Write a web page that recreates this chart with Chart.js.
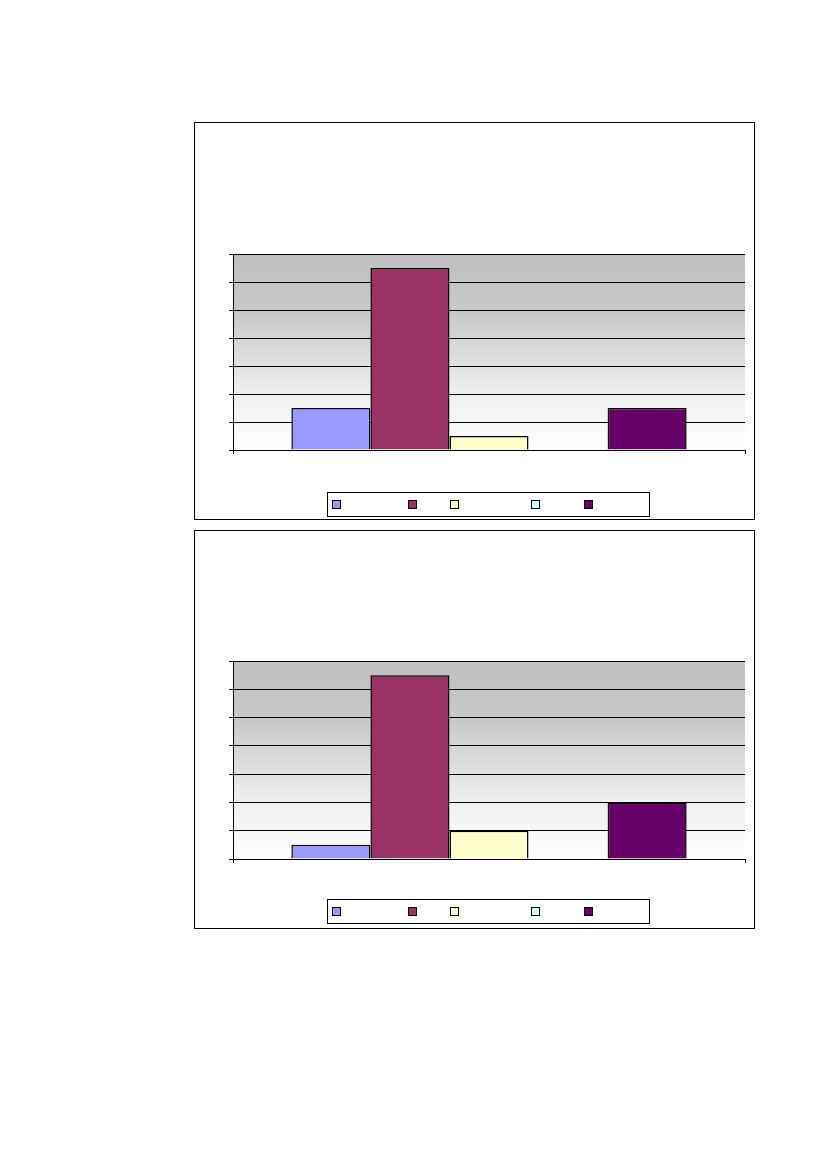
<!DOCTYPE html>
<html>
<head>
<meta charset="utf-8">
<script src="https://cdn.jsdelivr.net/npm/chart.js@4/dist/chart.umd.min.js"></script>
<style>
  html, body { margin: 0; padding: 0; background: #fff; }
  body { width: 826px; height: 1168px; position: relative; font-family: "Liberation Sans", Arial, sans-serif; }
  .box { position: absolute; left: 194px; width: 559px; border: 1px solid #000; background: #fff; }
  .box canvas { position: absolute; left: 0; top: 0; }
  .legend { position: absolute; left: 132px; width: 323px; height: 25px; border: 1px solid #000; background: #fff; box-sizing: border-box; }
  .legend .item { position: absolute; top: 7px; width: 7px; height: 7px; border: 1px solid #000; }
</style>
</head>
<body>
<div class="box" id="box1" style="top:122px;height:396px;"><canvas id="c1" width="559" height="396"></canvas><div class="legend" id="lg1" style="top:369px;"></div></div>
<div class="box" id="box2" style="top:530px;height:397px;"><canvas id="c2" width="559" height="397"></canvas><div class="legend" id="lg2" style="top:368px;"></div></div>
<script>
// ---- data ----
const categories = [""];
const seriesNames = ["", "", "", "", ""];
const seriesColors = ["#9999ff", "#993366", "#ffffcc", "#ccffff", "#660066"];
const chart1Values = [3, 13, 1, 0, 3];
const chart2Values = [1, 13, 2, 0, 4];
const yTicks = [0, 2, 4, 6, 8, 10, 12, 14];
// legend swatch offsets inside legend box (px)
const legendOffsets = [4, 80, 122, 203, 256];

const bgPlugin = {
  id: 'plotBg',
  beforeDraw(chart) {
    const a = chart.chartArea, ctx = chart.ctx;
    const g = ctx.createLinearGradient(0, a.top, 0, a.bottom);
    g.addColorStop(0, '#c0c0c0');
    g.addColorStop(0.3, '#c8c8c8');
    g.addColorStop(0.7, '#eeeeee');
    g.addColorStop(1, '#ffffff');
    ctx.save();
    ctx.fillStyle = g;
    ctx.fillRect(a.left, a.top, a.right - a.left, a.bottom - a.top);
    ctx.restore();
  }
};

function makeChart(id, values, topPad) {
  const datasets = values.map((v, i) => ({
    label: seriesNames[i],
    data: [v],
    backgroundColor: seriesColors[i],
    borderColor: '#000',
    borderWidth: 1.5,
    barPercentage: 1.0,
    categoryPercentage: 0.772
  }));
  return new Chart(document.getElementById(id), {
    type: 'bar',
    data: { labels: categories, datasets },
    plugins: [bgPlugin],
    options: {
      responsive: false,
      animation: false,
      devicePixelRatio: 1,
      layout: { padding: { left: 34, right: 9, top: topPad, bottom: 65 } },
      plugins: { legend: { display: false }, tooltip: { enabled: false }, title: { display: false } },
      scales: {
        x: {
          offset: true,
          ticks: { display: false },
          grid: { display: true, drawOnChartArea: false, drawTicks: true, tickLength: 4, color: '#000', offset: true },
          border: { display: true, color: '#000', width: 1 },
          afterFit(s) { s.height = 4; }
        },
        y: {
          min: yTicks[0],
          max: yTicks[yTicks.length - 1],
          afterBuildTicks(s) { s.ticks = yTicks.map(v => ({ value: v })); },
          ticks: { display: false },
          grid: { color: '#000', lineWidth: 1, drawTicks: true, tickLength: 4 },
          border: { display: true, color: '#000', width: 1 },
          afterFit(s) { s.width = 4; }
        }
      }
    }
  });
}

function makeLegend(id) {
  const el = document.getElementById(id);
  seriesColors.forEach((c, i) => {
    const d = document.createElement('div');
    d.className = 'item';
    d.style.left = legendOffsets[i] + 'px';
    d.style.background = c;
    d.title = seriesNames[i];
    el.appendChild(d);
  });
}

makeChart('c1', chart1Values, 131);
makeChart('c2', chart2Values, 130);
makeLegend('lg1');
makeLegend('lg2');
</script>
</body>
</html>
